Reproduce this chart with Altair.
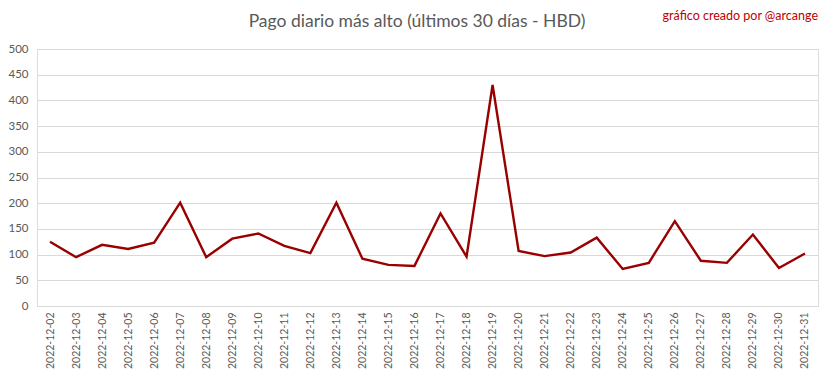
import altair as alt
import pandas as pd

dates = ["2022-12-%02d" % d for d in range(2, 32)]
values = [125, 95, 119, 111, 123, 201, 95, 131, 141, 117, 103, 201, 92, 80, 78,
          180, 96, 430, 107, 97, 104, 133, 72, 84, 165, 88, 84, 139, 74, 102]
y_ticks = list(range(0, 501, 50))
title_text = "Pago diario más alto (últimos 30 días - HBD)"
credit_text = "gráfico creado por @arcange"

df = pd.DataFrame({"fecha": dates, "pago": values})

FONT = "Lato"
GRAY = "#595959"

line = alt.Chart(df).mark_line(color="#990000", strokeWidth=2.4).encode(
    x=alt.X("fecha:N", sort=None,
            scale=alt.Scale(type="point", padding=0.5),
            axis=alt.Axis(title=None, labelAngle=-90, labelFontSize=10.5,
                          labelColor=GRAY, labelFont=FONT, ticks=False,
                          domain=True, domainColor="#d9d9d9", labelPadding=6,
                          labelBaseline="middle", labelAlign="right")),
    y=alt.Y("pago:Q", scale=alt.Scale(domain=[0, 500], nice=False),
            axis=alt.Axis(title=None, values=y_ticks, labelFontSize=11.5,
                          labelColor=GRAY, labelFont=FONT, ticks=False,
                          domain=False, gridColor="#d9d9d9", labelPadding=9)),
)

credit = alt.Chart(pd.DataFrame({"t": [credit_text]})).mark_text(
    align="right", baseline="middle", fontSize=12.5, color="#C00000", font=FONT
).encode(text="t:N", x=alt.value(781), y=alt.value(-33))

title = alt.Chart(pd.DataFrame({"t": [title_text]})).mark_text(
    align="center", baseline="middle", fontSize=17.5, color=GRAY, font=FONT
).encode(text="t:N", x=alt.value(380), y=alt.value(-27))

chart = alt.layer(line, credit, title).properties(
    width=781, height=257,
    autosize=alt.AutoSizeParams(type="none"),
    padding={"left": 29, "top": 41, "right": 5, "bottom": 65},
).configure_view(stroke=None).configure(background="white")

chart.save("out.html", embed_options={"renderer": "svg", "actions": False})
